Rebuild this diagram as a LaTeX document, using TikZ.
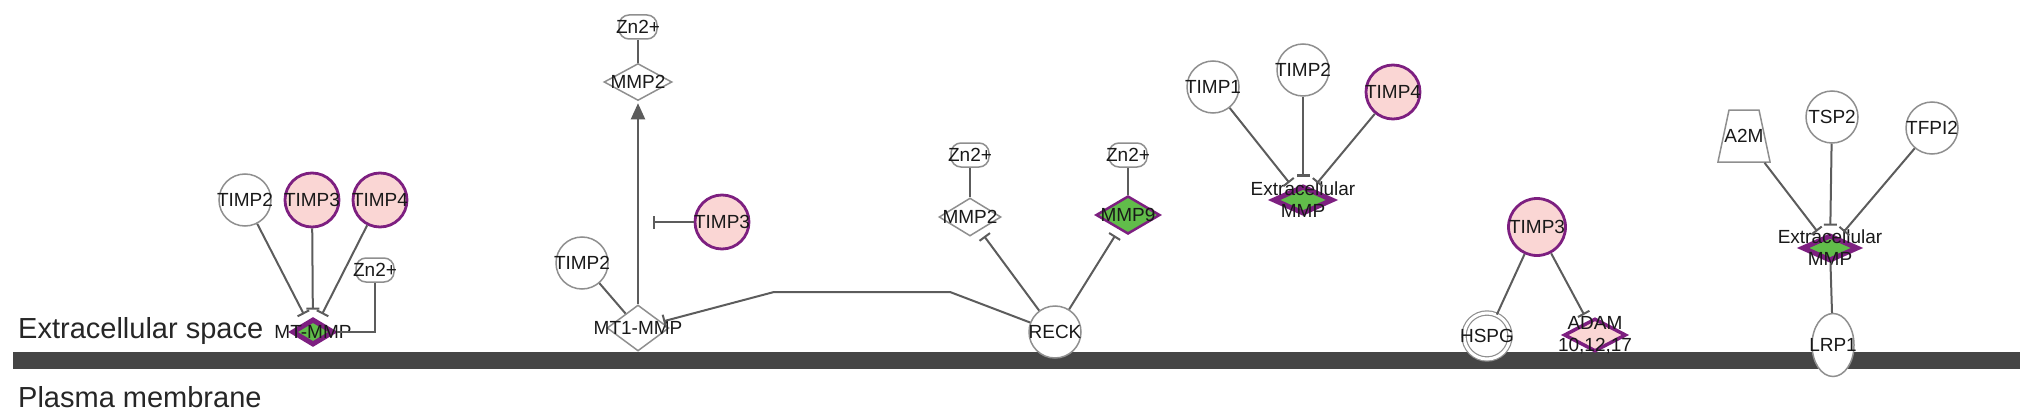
\documentclass[tikz,border=0pt]{standalone}
\usepackage{fontspec}
\setmainfont{Liberation Sans}
\usepackage{tikz}
\usetikzlibrary{shapes.geometric,arrows.meta}
\definecolor{membranegray}{rgb}{0.27,0.27,0.27}
\definecolor{edgegray}{rgb}{0.36,0.36,0.36}
\definecolor{nodegray}{rgb}{0.56,0.56,0.56}
\definecolor{upcolor}{rgb}{0.98,0.84,0.83}
\definecolor{rimcolor}{rgb}{0.49,0.12,0.50}
\definecolor{downcolor}{rgb}{0.38,0.74,0.29}

\begin{document}
\begin{tikzpicture}[x=1pt, y=-1pt,
    every label/.style={font=\fontsize{19}{22}\selectfont, text=black!90, inner sep=0pt, align=center},
    plainmol/.style={circle, draw=nodegray, line width=1.5pt, fill=white, minimum size=52pt, inner sep=0pt},
    upmol/.style={circle, draw=rimcolor, line width=2.8pt, fill=upcolor, minimum size=54pt, inner sep=0pt},
    enzyme/.style={diamond, draw=nodegray, line width=1.5pt, fill=white, inner sep=0pt},
    downenzyme/.style={diamond, draw=rimcolor, fill=downcolor, inner sep=0pt},
    ion/.style={rectangle, rounded corners=10pt, draw=nodegray, line width=1.5pt, fill=white, minimum width=38pt, minimum height=24pt, inner sep=0pt},
    link/.style={draw=edgegray, line width=2pt},
    inhibit/.style={link, -{Bar[width=13pt, line width=2pt]}, shorten >=7pt},
    activate/.style={link, -{Triangle[width=14pt, length=16pt]}, shorten >=2pt},
    regionlabel/.style={font=\fontsize{29}{31}\selectfont, text=black!85, inner sep=0pt, anchor=base west}
  ]
\useasboundingbox (0,0) rectangle (2032,420);
\fill[membranegray] (13,352) rectangle (2020,369);
\node[regionlabel] (extspace) at (18,338) {Extracellular space};
\node[regionlabel] (plasmamem) at (18,407) {Plasma membrane};

\coordinate (reckbend) at (950,292);
\coordinate (mtbend) at (774,292);
\coordinate (mmpblock) at (653,222);

\node[plainmol, label=center:TIMP2] (timpltwo) at (245,200) {};
\node[upmol, label=center:TIMP3] (timplthree) at (312,200) {};
\node[upmol, label=center:TIMP4] (timplfour) at (380,200) {};
\node[ion, label=center:Zn2+] (znl) at (375,270) {};
\node[downenzyme, line width=5pt, minimum width=42pt, minimum height=26pt, label=center:MT-MMP] (mtmmp) at (313,332) {};

\node[ion, label=center:Zn2+] (znm) at (638,27) {};
\node[enzyme, minimum width=68pt, minimum height=37pt, label=center:MMP2] (mmpm) at (638,82) {};
\node[upmol, label=center:TIMP3] (timpmthree) at (722,222) {};
\node[plainmol, label=center:TIMP2] (timpmtwo) at (582,263) {};
\node[enzyme, minimum width=62pt, minimum height=46pt, label=center:MT1-MMP] (mtonemmp) at (638,328) {};

\node[ion, label=center:Zn2+] (znr) at (970,155) {};
\node[enzyme, minimum width=62pt, minimum height=38pt, label=center:MMP2] (mmpr) at (970,217) {};
\node[ion, label=center:Zn2+] (zns) at (1128,155) {};
\node[downenzyme, line width=2.5pt, minimum width=64pt, minimum height=38pt, label=center:MMP9] (mmpnine) at (1128,215) {};
\node[plainmol, label=center:RECK] (reck) at (1055,332) {};

\node[plainmol, label=center:TIMP1] (timpcone) at (1213,87) {};
\node[plainmol, label=center:TIMP2] (timpctwo) at (1303,70) {};
\node[upmol, label=center:TIMP4] (timpcfour) at (1393,92) {};
\node[downenzyme, line width=5pt, minimum width=60pt, minimum height=28pt, label={center:{Extracellular\\MMP}}] (extmmpc) at (1303,200) {};

\node[upmol, minimum size=57pt, label=center:TIMP3] (timpdthree) at (1537,227) {};
\node[circle, draw=nodegray, line width=1.2pt, double=white, double distance=3pt, fill=white, minimum size=46pt, inner sep=0pt, label=center:HSPG] (hspg) at (1487,336) {};
\node[diamond, draw=rimcolor, line width=3.5pt, fill=upcolor, minimum width=62pt, minimum height=33pt, inner sep=0pt, label={center:{ADAM\\10,12,17}}] (adam) at (1595,335) {};

\node[trapezium, trapezium left angle=78, trapezium right angle=78, draw=nodegray, line width=1.5pt, fill=white, inner xsep=15pt, inner ysep=26pt, label=center:A2M] (atwom) at (1744,136) {};
\node[plainmol, label=center:TSP2] (tsptwo) at (1832,117) {};
\node[plainmol, label=center:TFPI2] (tfpitwo) at (1932,128) {};
\node[downenzyme, line width=5pt, minimum width=56pt, minimum height=26pt, label={center:{Extracellular\\MMP}}] (extmmpr) at (1830,248) {};
\node[ellipse, draw=nodegray, line width=1.5pt, fill=white, minimum width=42pt, minimum height=63pt, inner sep=0pt, label=center:LRP1] (lrpone) at (1833,345) {};

\draw[link] (znl) |- (mtmmp);
\draw[inhibit] (timpltwo) -- (mtmmp);
\draw[inhibit] (timplthree) -- (mtmmp);
\draw[inhibit] (timplfour) -- (mtmmp);
\draw[link] (znm) -- (mmpm);
\draw[link] (timpmtwo) -- (mtonemmp);
\draw[activate] (mtonemmp) -- (mmpm);
\draw[inhibit, shorten >=0pt] (timpmthree) -- (mmpblock);
\draw[inhibit, shorten >=2pt] (reck) -- (reckbend) -- (mtbend) -- (mtonemmp);
\draw[link] (znr) -- (mmpr);
\draw[link] (zns) -- (mmpnine);
\draw[inhibit] (reck) -- (mmpr);
\draw[inhibit] (reck) -- (mmpnine);
\draw[inhibit] (timpcone) -- (extmmpc);
\draw[inhibit] (timpctwo) -- (extmmpc);
\draw[inhibit] (timpcfour) -- (extmmpc);
\draw[link] (timpdthree) -- (hspg);
\draw[inhibit] (timpdthree) -- (adam);
\draw[inhibit] (atwom) -- (extmmpr);
\draw[inhibit] (tsptwo) -- (extmmpr);
\draw[inhibit] (tfpitwo) -- (extmmpr);
\draw[link] (extmmpr) -- (lrpone);
\end{tikzpicture}
\end{document}
